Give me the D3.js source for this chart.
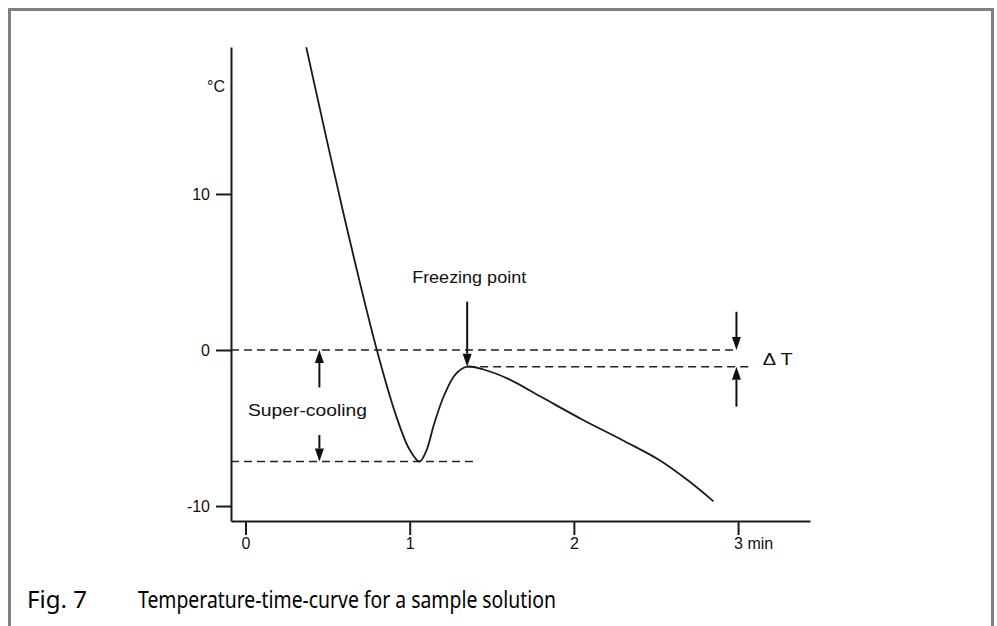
<!DOCTYPE html>
<html>
<head>
<meta charset="utf-8">
<script src="https://cdn.jsdelivr.net/npm/d3@7/dist/d3.min.js"></script>
<style>
  html, body { margin: 0; padding: 0; background: #fff; }
  svg { display: block; }
  text { font-family: "Liberation Sans", Arial, sans-serif; fill: #111; }
  .caption { font-family: "Noto Sans", "Open Sans", sans-serif; fill: #000; }
</style>
</head>
<body>
<svg id="chart" width="997" height="626"></svg>
<script>
// ---- data (time in min, temperature in °C) ----
const curveTime = [0.37, 0.60, 0.80, 0.92, 1.00, 1.06, 1.10, 1.15, 1.21, 1.28, 1.35, 1.45, 1.60, 1.80, 2.05, 2.30, 2.52, 2.70, 2.85];
const curveTemp = [19.4, 8.6, 0.0, -4.3, -6.4, -7.15, -6.5, -4.7, -2.9, -1.55, -1.07, -1.25, -1.85, -3.0, -4.45, -5.8, -7.05, -8.4, -9.7];

const xTicks = [0, 1, 2, 3];
const xTickLabels = ["0", "1", "2", "3 min"];
const yTicks = [-10, 0, 10];
const yTickLabels = ["-10", "0", "10"];
const yUnit = "°C";

// reference (dashed) lines: level and time span
const refLevel = [0, -7.15, -1.07];
const refStart = [-0.0883, -0.0883, 1.35];
const refEnd = [2.97, 1.385, 3.07];

// arrows: time position, from temperature, to temperature (tip)
const arrowTime = [0.45, 0.45, 1.35, 2.99, 2.99];
const arrowFrom = [-2.4, -5.45, 3.1, 2.45, -3.63];
const arrowTo = [0, -7.15, -1.07, 0, -1.07];

const annoText = ["Super-cooling", "Freezing point", "Δ T"];
const annoTime = [0.015, 1.015, 3.15];
const annoTemp = [-4.2, 4.3, -0.95];

const captionNum = "Fig. 7";
const captionText = "Temperature-time-curve for a sample solution";

// ---- layout ----
const svg = d3.select("#chart");
const x = d3.scaleLinear().domain([-0.0883, 3.438]).range([231, 810]);
const y = d3.scaleLinear().domain([-10.96, 19.42]).range([521, 47]);

// frame
svg.append("path")
  .attr("d", "M9.5,626 L9.5,9.5 L992.5,9.5 L992.5,626")
  .attr("fill", "none").attr("stroke", "#808080").attr("stroke-width", 3);

// x axis
const xAxis = svg.append("g").attr("transform", `translate(0,${y(-10.96)})`)
  .call(d3.axisBottom(x).tickValues(xTicks).tickSize(14).tickSizeOuter(0).tickPadding(3)
    .tickFormat((d, i) => xTickLabels[i]));
// y axis
const yAxis = svg.append("g").attr("transform", `translate(${x(-0.0883)},0)`)
  .call(d3.axisLeft(y).tickValues(yTicks).tickSize(15).tickSizeOuter(0).tickPadding(6)
    .tickFormat((d, i) => yTickLabels[i]));

[xAxis, yAxis].forEach(g => {
  g.select(".domain").attr("stroke", "#1a1a1a").attr("stroke-width", 2);
  g.selectAll(".tick line").attr("stroke", "#1a1a1a").attr("stroke-width", 2);
  g.selectAll(".tick text").style("font-family", '"Liberation Sans", Arial, sans-serif')
    .style("font-size", "16px").attr("fill", "#111");
});
// last x label "3 min": keep the digit centred on its tick
xAxis.selectAll(".tick text").filter((d, i) => i === xTicks.length - 1)
  .attr("text-anchor", "start").attr("x", -4.5);

// unit label
svg.append("text").attr("x", x(-0.0883) - 6).attr("y", 92)
  .attr("text-anchor", "end").style("font-size", "16px").text(yUnit);

// dashed reference lines
svg.append("g").selectAll("line").data(refLevel).join("line")
  .attr("x1", (d, i) => x(refStart[i])).attr("x2", (d, i) => x(refEnd[i]))
  .attr("y1", d => y(d)).attr("y2", d => y(d))
  .attr("stroke", "#222").attr("stroke-width", 1.5).attr("stroke-dasharray", "8,5");

// curve
const pts = curveTime.map((t, i) => [t, curveTemp[i]]);
svg.append("path").datum(pts)
  .attr("d", d3.line().x(d => x(d[0])).y(d => y(d[1])).curve(d3.curveCatmullRom.alpha(0.5)))
  .attr("fill", "none").attr("stroke", "#1a1a1a").attr("stroke-width", 1.8);

// arrows
const ag = svg.append("g");
arrowTime.forEach((t, i) => {
  const ax = x(t), y0 = y(arrowFrom[i]), y1 = y(arrowTo[i]);
  const dir = y1 > y0 ? 1 : -1;
  const hl = 13, hw = 4.5;
  ag.append("line").attr("x1", ax).attr("x2", ax).attr("y1", y0).attr("y2", y1 - dir * hl)
    .attr("stroke", "#111").attr("stroke-width", 2);
  ag.append("path")
    .attr("d", `M${ax},${y1} L${ax - hw},${y1 - dir * hl} L${ax + hw},${y1 - dir * hl} Z`)
    .attr("fill", "#111");
});

// annotations
const annoWidth = [119, 114, 30];
svg.append("g").selectAll("text").data(annoText).join("text")
  .attr("x", (d, i) => x(annoTime[i])).attr("y", (d, i) => y(annoTemp[i]))
  .style("font-size", "17px")
  .attr("textLength", (d, i) => annoWidth[i]).attr("lengthAdjust", "spacingAndGlyphs")
  .text(d => d);

// caption
svg.append("text").attr("class", "caption").attr("x", 27).attr("y", 608)
  .style("font-size", "24px").attr("textLength", 60).attr("lengthAdjust", "spacingAndGlyphs")
  .text(captionNum);
svg.append("text").attr("class", "caption").attr("x", 138).attr("y", 608)
  .style("font-size", "24px").attr("textLength", 418).attr("lengthAdjust", "spacingAndGlyphs")
  .text(captionText);
</script>
</body>
</html>
